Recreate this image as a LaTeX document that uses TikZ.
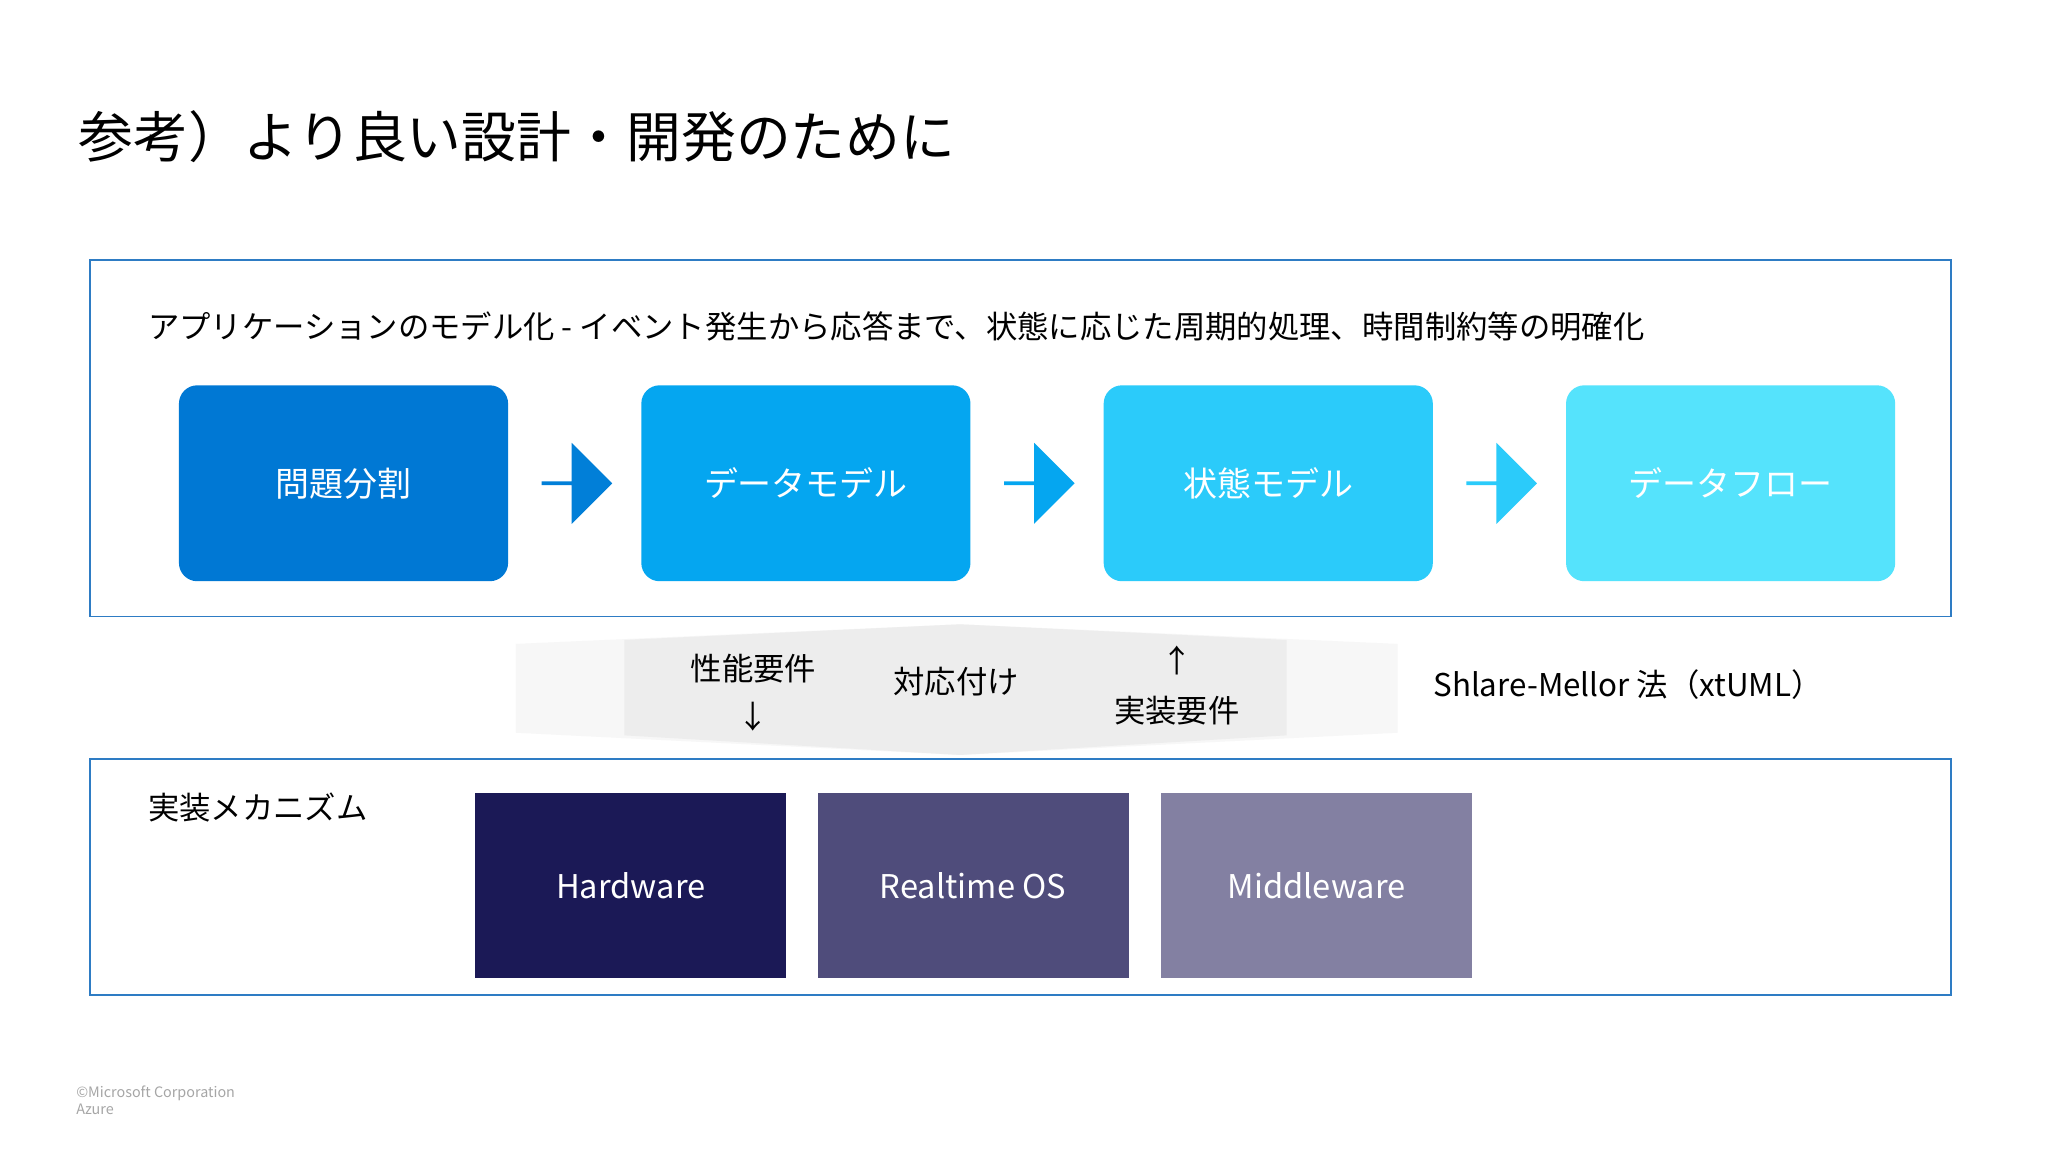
\documentclass[tikz,border=0pt]{standalone}
\usepackage{fontspec}
\setmainfont{Noto Sans CJK JP}
\usetikzlibrary{shapes.arrows}
\definecolor{cA}{HTML}{0078D4}
\definecolor{cB}{HTML}{05A6F0}
\definecolor{cC}{HTML}{2BCBFA}
\definecolor{cD}{HTML}{55E3FC}
\definecolor{hA}{HTML}{1B1956}
\definecolor{hB}{HTML}{4F4C7B}
\definecolor{hC}{HTML}{8380A2}
\definecolor{frame}{HTML}{2E7CC4}
\tikzset{
 x=0.5pt,y=-0.5pt,
 flow/.style={rounded corners=7pt,minimum width=126pt,minimum height=75pt,text=white,font=\fontsize{13}{15}\selectfont,inner sep=0},
 hw/.style={minimum width=119pt,minimum height=71pt,text=white,font=\fontsize{12.5}{15}\selectfont,inner sep=0},
 arr/.style={single arrow,single arrow head extend=4pt,minimum width=31pt,minimum height=27pt,inner sep=0,shape border rotate=0},
 panel/.style={draw=frame,line width=0.7pt},
 lab/.style={font=\fontsize{12}{14}\selectfont,inner sep=0}
}
\begin{document}
\begin{tikzpicture}
\useasboundingbox[fill=white] (0,0) rectangle (1568,882);
\node[anchor=west,font=\fontsize{21}{25}\selectfont,inner sep=0] (title) at (60,105) {参考）より良い設計・開発のために};
\draw[panel] (69,199) rectangle (1494,472);
\node[lab,anchor=west] (sub) at (113,250) {アプリケーションのモデル化 - イベント発生から応答まで、状態に応じた周期的処理、時間制約等の明確化};
\node[flow,fill=cA] (b1) at (263,370) {問題分割};
\node[flow,fill=cB] (b2) at (617,370) {データモデル};
\node[flow,fill=cC] (b3) at (971,370) {状態モデル};
\node[flow,fill=cD] (b4) at (1325,370) {データフロー};
\node[arr,fill=cA!85!cB] (a1) at (441,370) {};
\node[arr,fill=cB] (a2) at (795,370) {};
\node[arr,fill=cC] (a3) at (1149,370) {};
% middle band
\fill[gray!6] (395,493) -- (735,478) -- (1070,493) -- (1070,561) -- (735,578) -- (395,561) -- cycle;
\fill[gray!14] (478,490) -- (735,478) -- (985,490) -- (985,563) -- (735,578) -- (478,563) -- cycle;
\node[lab] (p1) at (577,512) {性能要件};
\node[lab] (p2) at (577,549) {↓};
\node[lab] (p3) at (732,522) {対応付け};
\node[lab] (p4) at (901,506) {↑};
\node[lab] (p5) at (901,544) {実装要件};
\node[lab,anchor=west] (sm) at (1097,524) {Shlare-Mellor 法（xtUML）};
\draw[panel] (69,581) rectangle (1494,762);
\node[lab,anchor=west] (impl) at (113,618) {実装メカニズム};
\node[hw,fill=hA] (h1) at (483,678) {Hardware};
\node[hw,fill=hB] (h2) at (745,678) {Realtime OS};
\node[hw,fill=hC] (h3) at (1008,678) {Middleware};
\node[anchor=north west,align=left,text=gray!70,font=\fontsize{5.5}{6.5}\selectfont,inner sep=0] (ft) at (58,831) {©Microsoft Corporation\\Azure};
\end{tikzpicture}
\end{document}
